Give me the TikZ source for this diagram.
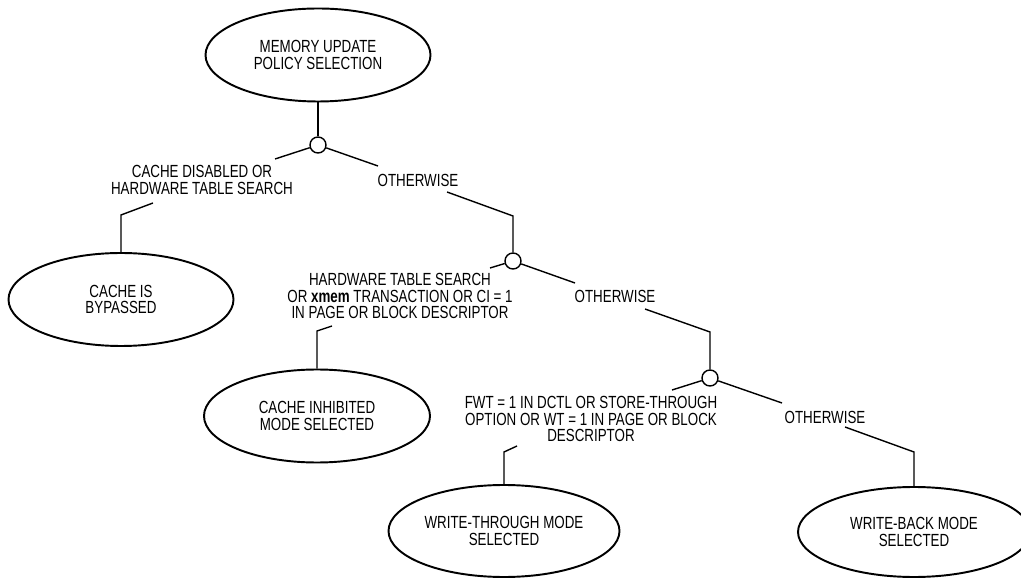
\documentclass[tikz,border=0pt]{standalone}
\usepackage{fontspec}
\setmainfont{Liberation Sans}[FakeStretch=0.76]
\usetikzlibrary{shapes.geometric}

\begin{document}
\begin{tikzpicture}[line width=0.8pt,
  font=\fontsize{10}{9.3}\selectfont,
  state/.style={draw, ellipse, line width=1.1pt, inner sep=0pt, align=center,
    minimum width=4.5cm, minimum height=1.86cm},
  test/.style={draw, circle, inner sep=0pt, minimum size=0.32cm},
  cond/.style={align=center, inner sep=0pt}]
  \path[use as bounding box, fill=white] (0,0) rectangle (20.42,-11.56);

  \node[state] (sel) at (6.36,-1.10) {MEMORY UPDATE\\POLICY SELECTION};
  \node[state] (byp) at (2.42,-5.99) {CACHE IS\\BYPASSED};
  \node[state, minimum width=4.52cm] (inh) at (6.34,-8.32) {CACHE INHIBITED\\MODE SELECTED};
  \node[state, minimum width=4.62cm, minimum height=1.84cm] (wt) at (10.08,-10.62) {WRITE-THROUGH MODE\\SELECTED};
  \node[state, minimum width=4.64cm, minimum height=1.8cm] (wb) at (18.28,-10.64) {WRITE-BACK MODE\\SELECTED};

  \node[test] (c1) at (6.36,-2.90) {};
  \node[test] (c2) at (10.26,-5.22) {};
  \node[test] (c3) at (14.20,-7.56) {};

  \node[cond] (l1) at (4.04,-3.60) {CACHE DISABLED OR\\HARDWARE TABLE SEARCH};
  \node[cond] (o1) at (8.36,-3.60) {OTHERWISE};
  \node[cond] (l2) at (8.00,-5.92) {HARDWARE TABLE SEARCH\\OR \textbf{xmem} TRANSACTION OR CI = 1\\IN PAGE OR BLOCK DESCRIPTOR};
  \node[cond] (o2) at (12.30,-5.92) {OTHERWISE};
  \node[cond] (l3) at (11.82,-8.38) {FWT = 1 IN DCTL OR STORE-THROUGH\\OPTION OR WT = 1 IN PAGE OR BLOCK\\DESCRIPTOR};
  \node[cond] (o3) at (16.50,-8.34) {OTHERWISE};

  \coordinate (a1) at (5.50,-3.18);
  \coordinate (b1) at (7.56,-3.32);
  \coordinate (d1) at (3.06,-4.06);
  \coordinate (k1) at (2.42,-4.30);
  \coordinate (e1) at (8.94,-3.84);
  \coordinate (k2) at (10.26,-4.32);
  \coordinate (a2) at (9.80,-5.36);
  \coordinate (b2) at (11.50,-5.66);
  \coordinate (d2) at (6.64,-6.52);
  \coordinate (k3) at (6.34,-6.62);
  \coordinate (e2) at (12.90,-6.18);
  \coordinate (k4) at (14.20,-6.64);
  \coordinate (a3) at (13.44,-7.80);
  \coordinate (b3) at (15.64,-8.06);
  \coordinate (d3) at (10.34,-8.92);
  \coordinate (k5) at (10.08,-9.04);
  \coordinate (e3) at (16.90,-8.54);
  \coordinate (k6) at (18.28,-9.04);

  \draw (sel) -- (c1);
  \draw (c1) -- (a1);
  \draw (c1) -- (b1);
  \draw (d1) -- (k1) -- (byp);
  \draw (e1) -- (k2) -- (c2);
  \draw (c2) -- (a2);
  \draw (c2) -- (b2);
  \draw (d2) -- (k3) -- (inh);
  \draw (e2) -- (k4) -- (c3);
  \draw (c3) -- (a3);
  \draw (c3) -- (b3);
  \draw (d3) -- (k5) -- (wt);
  \draw (e3) -- (k6) -- (wb);
\end{tikzpicture}
\end{document}
